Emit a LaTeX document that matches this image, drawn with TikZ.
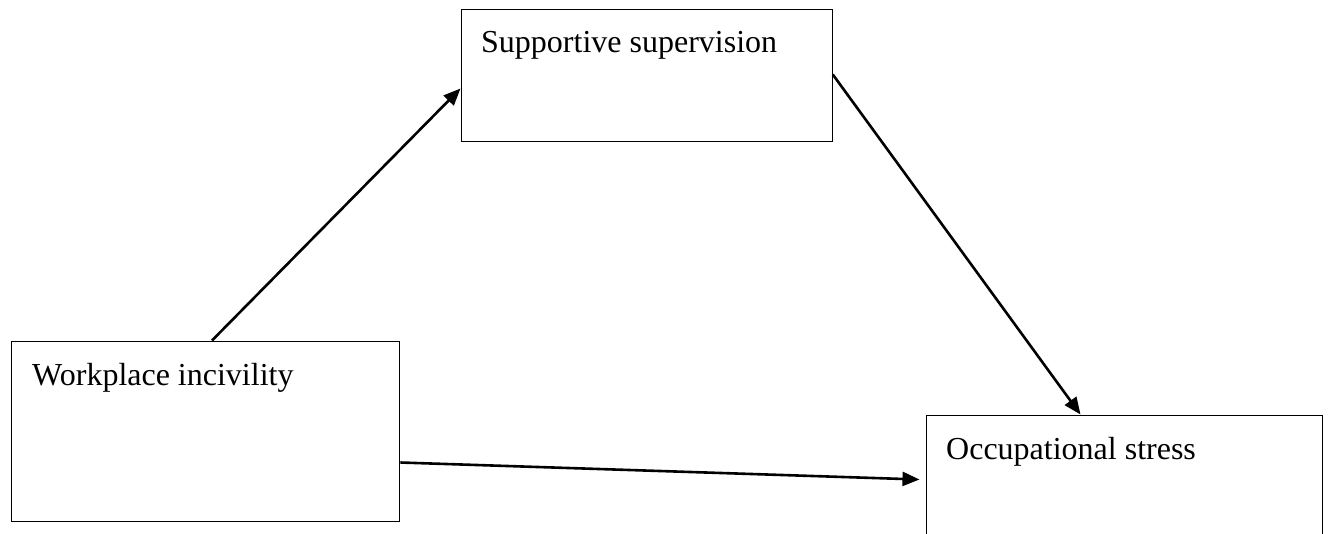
\documentclass[tikz,border=0pt]{standalone}
\usepackage{fontspec}
\setmainfont{Liberation Serif}
\usetikzlibrary{arrows.meta}
\begin{document}
\begin{tikzpicture}[x=1pt,y=-1pt,
  box/.style={draw, line width=1.3pt, inner sep=0pt, anchor=north west},
  lbl/.style={anchor=base west, inner sep=0pt, font=\fontsize{32}{38}\selectfont},
  conn/.style={line width=2.6pt, -{Triangle[length=17pt,width=14pt]}}]
\useasboundingbox (0,0) rectangle (1328,533);
\node[box, minimum width=371pt, minimum height=132pt] (ss) at (460.5,8.5) {};
\node[box, minimum width=388pt, minimum height=180pt] (wi) at (11,340.5) {};
\node[box, minimum width=396pt, minimum height=140pt] (os) at (925.5,414.5) {};
\node[lbl] (tss) at (481,52) {Supportive supervision};
\node[lbl] (twi) at (32,385) {Workplace incivility};
\node[lbl] (tos) at (946,459) {Occupational stress};
\draw[conn] ([xshift=201pt]wi.north west) -- ([yshift=-80pt]ss.north west);
\draw[conn] ([yshift=-66pt]ss.north east) -- ([xshift=155pt]os.north west);
\draw[conn] ([yshift=-122pt]wi.north east) -- ([xshift=-6pt,yshift=-65pt]os.north west);
\end{tikzpicture}
\end{document}
